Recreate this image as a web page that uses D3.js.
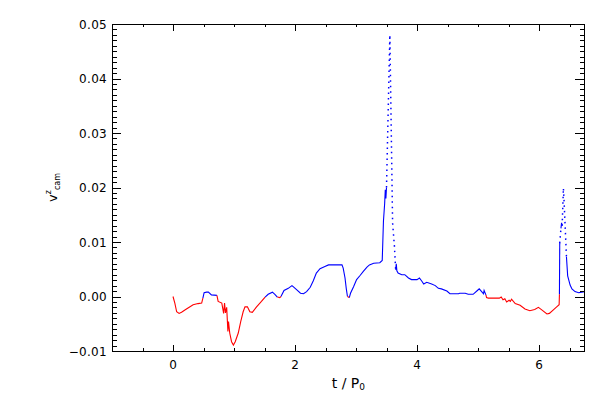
<!DOCTYPE html>
<html>
<head>
<meta charset="utf-8">
<script src="https://cdn.jsdelivr.net/npm/d3@7"></script>
<style>
  body { margin: 0; background: #fff; }
  text { font-family: "DejaVu Sans", sans-serif; fill: #000; }
</style>
</head>
<body>
<svg id="chart" width="600" height="400"></svg>
<script>
// time in units of P0
var tVals = [0.00, 0.03, 0.06, 0.10, 0.14, 0.22, 0.33, 0.41, 0.47, 0.49,
  0.51, 0.55, 0.58, 0.63, 0.72, 0.74, 0.80, 0.83, 0.845, 0.86,
  0.88, 0.90, 0.91, 0.93, 0.96, 0.99, 1.02, 1.07, 1.11, 1.15,
  1.18, 1.22, 1.26, 1.30, 1.37, 1.45, 1.51, 1.56, 1.63, 1.67,
  1.71, 1.75, 1.77, 1.82, 1.89, 1.95, 1.97, 2.03, 2.09, 2.14,
  2.19, 2.25, 2.30, 2.35, 2.41, 2.49, 2.55, 2.77, 2.79, 2.82,
  2.84, 2.86, 2.89, 2.91, 2.96, 3.01, 3.07, 3.12, 3.18, 3.22,
  3.29, 3.39, 3.43, 3.45, 3.47, 3.48, 3.49, 3.50, 3.555, 3.60,
  3.63, 3.65, 3.66, 3.67, 3.69, 3.75, 3.80, 3.86, 3.91, 4.00,
  4.04, 4.08, 4.11, 4.16, 4.24, 4.30, 4.35, 4.40, 4.49, 4.54,
  4.68, 4.70, 4.79, 4.84, 4.92, 4.99, 5.02, 5.06, 5.09, 5.10,
  5.13, 5.14, 5.17, 5.35, 5.38, 5.41, 5.44, 5.47, 5.51, 5.53,
  5.55, 5.61, 5.69, 5.77, 5.85, 5.93, 5.99, 6.04, 6.13, 6.17,
  6.24, 6.29, 6.33, 6.335, 6.34, 6.36, 6.37, 6.38, 6.40, 6.41,
  6.45, 6.47, 6.51, 6.54, 6.59, 6.65, 6.70, 6.75];

// v^z_cam
var vVals = [0.0000, -0.0012, -0.0028, -0.0031, -0.0029, -0.0023, -0.0015, -0.0013, -0.0012, -0.0003,
  0.0007, 0.0008, 0.0008, 0.0003, 0.0002, -0.0009, -0.0012, -0.0031, -0.0012, -0.0030,
  -0.0020, -0.0064, -0.0046, -0.0067, -0.0083, -0.0089, -0.0083, -0.0067, -0.0046, -0.0028,
  -0.0019, -0.0019, -0.0028, -0.0029, -0.0019, -0.0009, -0.0001, 0.0004, 0.0008, 0.0004,
  -0.0001, -0.0002, 0.0000, 0.0011, 0.0015, 0.0020, 0.0018, 0.0012, 0.0006, 0.0005,
  0.0009, 0.0017, 0.0029, 0.0043, 0.0051, 0.0055, 0.0058, 0.0058, 0.0052, 0.0034,
  0.0015, 0.0000, -0.0002, 0.0006, 0.0018, 0.0031, 0.0039, 0.0046, 0.0054, 0.0058,
  0.0061, 0.0062, 0.0066, 0.0138, 0.0171, 0.0196, 0.0180, 0.0200, 0.0480, 0.0135,
  0.0092, 0.0049, 0.0060, 0.0047, 0.0043, 0.0040, 0.0040, 0.0034, 0.0031, 0.0031,
  0.0034, 0.0028, 0.0023, 0.0026, 0.0023, 0.0020, 0.0015, 0.0014, 0.0010, 0.0005,
  0.0005, 0.0006, 0.0006, 0.0004, 0.0004, 0.0011, 0.0014, 0.0009, 0.0005, 0.0011,
  0.0003, -0.0002, -0.0003, -0.0003, -0.0001, -0.0006, -0.0004, -0.0010, -0.0007, -0.0009,
  -0.0005, -0.0013, -0.0016, -0.0023, -0.0026, -0.0024, -0.0020, -0.0024, -0.0032, -0.0031,
  -0.0024, -0.0019, -0.0015, 0.0004, 0.0098, 0.0125, 0.0135, 0.0130, 0.0199, 0.0178,
  0.0073, 0.0038, 0.0021, 0.0014, 0.0009, 0.0007, 0.0008, 0.0009];

// phase of each sample: "r" or "b" (applies to the segment leaving the sample)
var phase = "rrrrrrrrrb" + "bbbbrrrrrr" + "rrrrrrrrrr" + "rrrrrrbbbb" +
  "rrbbbbbbbb" + "bbbbbbbbbb" + "brbbbbbbbb" + "bbbbbbbbbb" +
  "bbbbbbbbbb" + "bbbbbbbbbb" + "bbbbbbbbbb" + "rrrrrrrrrr" +
  "rrrrrrrrrr" + "rrrbbbbbbb" + "bbbbbbbb";

// samples followed by a sparsely sampled (dotted) stretch
var sparse = [3.50, 3.555, 3.60, 3.63, 6.34, 6.38, 6.40, 6.41];

var xTicks = [0, 2, 4, 6];
var yTicks = [-0.01, 0.00, 0.01, 0.02, 0.03, 0.04, 0.05];

var svg = d3.select("#chart");
var pLeft = 112, pRight = 584.75, pTop = 24, pBottom = 351;

var x = d3.scaleLinear().domain([-1, 6.75]).range([pLeft, pRight]);
var y = d3.scaleLinear().domain([-0.01, 0.05]).range([pBottom, pTop]);

var pts = tVals.map(function(t, i) {
  return {t: t, v: vVals[i], c: phase[i], s: sparse.indexOf(t) >= 0};
});

// group consecutive segments with same colour/dot style
var runs = [];
for (var i = 0; i < pts.length - 1; i++) {
  var p = pts[i];
  var last = runs[runs.length - 1];
  if (last && last.c === p.c && last.s === p.s) {
    last.pts.push(pts[i + 1]);
  } else {
    runs.push({c: p.c, s: p.s, pts: [p, pts[i + 1]]});
  }
}

var line = d3.line()
  .x(function(d) { return x(d.t); })
  .y(function(d) { return y(d.v); });

svg.append("clipPath").attr("id", "clip")
  .append("rect").attr("x", pLeft).attr("y", pTop)
  .attr("width", pRight - pLeft).attr("height", pBottom - pTop);

svg.append("g").attr("clip-path", "url(#clip)")
  .selectAll("path")
  .data(runs)
  .enter()
  .append("path")
  .attr("d", function(d) { return line(d.pts); })
  .attr("fill", "none")
  .attr("stroke", function(d) { return d.c === "r" ? "#ff0000" : "#0000ff"; })
  .attr("stroke-width", function(d) { return d.s ? 1.5 : 1.1; })
  .attr("stroke-dasharray", function(d) { return d.s ? "1.5,4" : null; })
  .attr("stroke-linejoin", "miter");

// axes frame
var ax = svg.append("g").attr("stroke", "#000").attr("stroke-width", 1)
  .attr("shape-rendering", "crispEdges");

ax.append("rect").attr("x", pLeft).attr("y", pTop)
  .attr("width", pRight - pLeft).attr("height", pBottom - pTop)
  .attr("fill", "none");

// x ticks (major every 2, minor every 0.5)
d3.range(-1, 6.76, 0.5).forEach(function(t) {
  var major = Math.abs(t / 2 - Math.round(t / 2)) < 1e-6;
  var len = major ? 6.5 : 3.3;
  var px = Math.round(x(t)) + 0.5;
  ax.append("line").attr("x1", px).attr("x2", px).attr("y1", pBottom).attr("y2", pBottom - len);
  ax.append("line").attr("x1", px).attr("x2", px).attr("y1", pTop).attr("y2", pTop + len);
});

// y ticks (major every 0.01, minor every 0.001)
d3.range(0, 61).forEach(function(k) {
  var v = -0.01 + k * 0.001;
  var major = k % 10 === 0;
  var len = major ? 9.4 : 4.7;
  var py = Math.round(y(v)) + 0.5;
  ax.append("line").attr("x1", pLeft).attr("x2", pLeft + len).attr("y1", py).attr("y2", py);
  ax.append("line").attr("x1", pRight).attr("x2", pRight - len).attr("y1", py).attr("y2", py);
});

// tick labels
svg.append("g").selectAll("text")
  .data(xTicks)
  .enter()
  .append("text")
  .attr("x", function(d) { return x(d); })
  .attr("y", 369)
  .attr("text-anchor", "middle")
  .attr("font-size", 12)
  .text(function(d) { return d; });

svg.append("g").selectAll("text")
  .data(yTicks)
  .enter()
  .append("text")
  .attr("x", 107)
  .attr("y", function(d) { return y(d) + 4.5; })
  .attr("text-anchor", "end")
  .attr("font-size", 12)
  .attr("letter-spacing", 0.3)
  .text(function(d) { return d < 0 ? "\u2212" + Math.abs(d).toFixed(2) : d.toFixed(2); });

// axis titles
var xt = svg.append("text")
  .attr("x", (pLeft + pRight) / 2)
  .attr("y", 388)
  .attr("text-anchor", "middle")
  .attr("font-size", 14);
xt.append("tspan").text("t / P");
xt.append("tspan").attr("font-size", 9).attr("dy", 2).text("0");

var yt = svg.append("text")
  .attr("transform", "translate(57," + ((pTop + pBottom) / 2) + ") rotate(-90)")
  .attr("text-anchor", "middle")
  .attr("font-size", 13);
yt.append("tspan").text("v");
yt.append("tspan").attr("font-size", 8).attr("dy", -6).text("z");
yt.append("tspan").attr("font-size", 8).attr("dy", 9).text("cam");
</script>
</body>
</html>
